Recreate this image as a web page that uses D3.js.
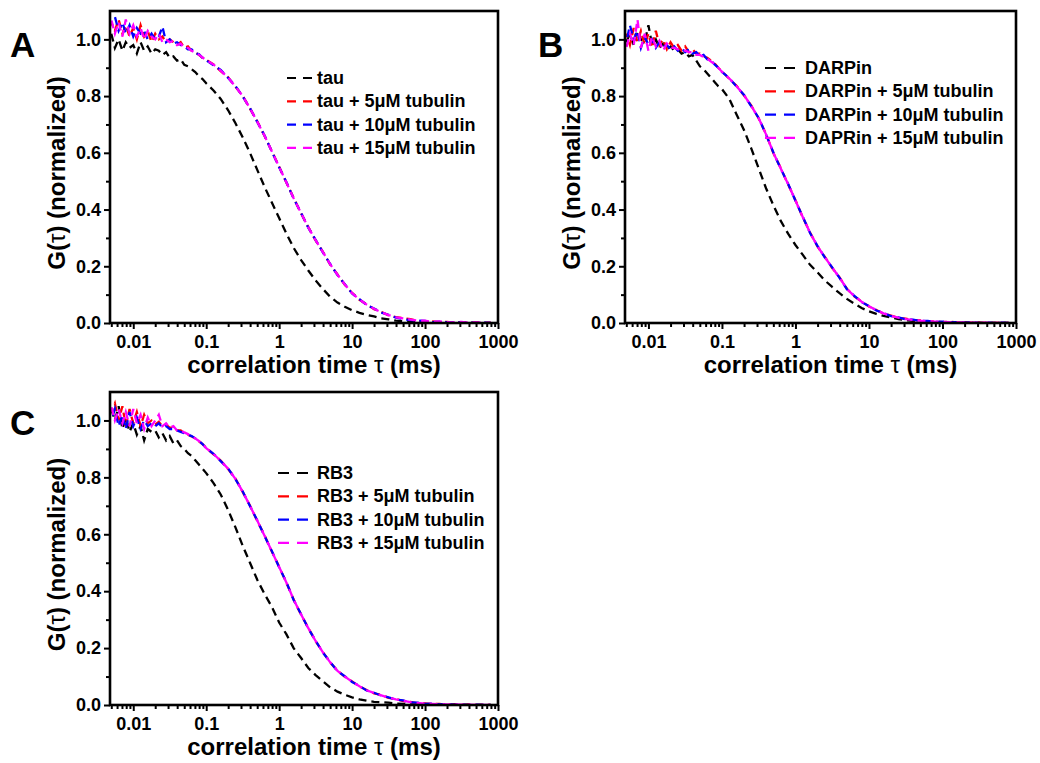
<!DOCTYPE html>
<html>
<head>
<meta charset="utf-8">
<script src="https://cdn.jsdelivr.net/npm/d3@7"></script>
<style>
body { margin: 0; background: #fff; }
svg { display: block; font-family: Arial, "Liberation Sans", sans-serif; }
</style>
</head>
<body>
<svg id="chart" width="1040" height="763"></svg>
<script>
// lag times (ms), shared by every curve
var lagTimes = [0.0050, 0.0056, 0.0063, 0.0071, 0.0079, 0.0089, 0.0100, 0.0112, 0.0126, 0.0141,
  0.0158, 0.0178, 0.0200, 0.0224, 0.0251, 0.0282, 0.0316, 0.0355, 0.0398, 0.0447,
  0.0501, 0.0562, 0.0631, 0.0708, 0.0794, 0.0891,
  0.100, 0.126, 0.158, 0.200, 0.251, 0.316, 0.398, 0.501, 0.631, 0.794,
  1.00, 1.26, 1.58, 2.00, 2.51, 3.16, 3.98, 5.01, 6.31, 7.94,
  10.0, 12.6, 15.8, 20.0, 25.1, 31.6, 39.8, 50.1, 63.1, 79.4,
  100, 126, 158, 200, 251, 316, 398, 501, 631, 794];

// panel A : tau
var tauOnly = [1.02, 0.97, 1.00, 0.96, 0.99, 0.97, 0.98, 0.95, 0.99, 0.96,
  0.975, 0.95, 0.965, 0.96, 0.945, 0.955, 0.935, 0.94, 0.925, 0.93,
  0.91, 0.905, 0.895, 0.885, 0.87, 0.86,
  0.845, 0.82, 0.79, 0.75, 0.705, 0.655, 0.60, 0.54, 0.48, 0.425,
  0.37, 0.315, 0.265, 0.222, 0.185, 0.15, 0.12, 0.092, 0.072, 0.057,
  0.045, 0.036, 0.029, 0.023, 0.016, 0.013, 0.008, 0.006, 0.004, 0.003,
  0.002, 0.003, 0.001, 0.002, 0.001, 0.001, 0.000, 0.001, 0.000, 0.000];
var tau5 = [1.06, 1.03, 1.07, 1.02, 1.05, 1.01, 1.04, 1.00, 1.05, 1.01,
  1.03, 0.99, 1.02, 1.00, 1.01, 0.99, 1.00, 0.99, 0.98, 0.99,
  0.97, 0.975, 0.96, 0.955, 0.945, 0.935,
  0.928, 0.912, 0.888, 0.866, 0.833, 0.801, 0.756, 0.711, 0.659, 0.606,
  0.551, 0.494, 0.441, 0.386, 0.338, 0.291, 0.251, 0.206, 0.171, 0.135,
  0.106, 0.082, 0.066, 0.049, 0.039, 0.027, 0.021, 0.017, 0.014, 0.007,
  0.005, 0.006, 0.003, 0.004, 0.001, 0.003, 0.001, 0.002, 0.000, 0.001];
var tau10 = [1.09, 1.08, 1.03, 1.06, 1.02, 1.05, 1.01, 1.04, 1.02, 1.03,
  1.00, 1.02, 1.00, 1.01, 1.045, 0.99, 1.00, 0.985, 0.99, 0.98,
  0.975, 0.965, 0.965, 0.95, 0.948, 0.935,
  0.926, 0.909, 0.892, 0.864, 0.836, 0.799, 0.758, 0.709, 0.661, 0.604,
  0.549, 0.496, 0.439, 0.388, 0.336, 0.293, 0.249, 0.208, 0.169, 0.137,
  0.104, 0.084, 0.064, 0.051, 0.037, 0.029, 0.019, 0.014, 0.010, 0.009,
  0.007, 0.003, 0.005, 0.002, 0.003, 0.001, 0.002, 0.000, 0.001, 0.000];
var tau15 = [1.07, 1.02, 1.06, 1.01, 1.07, 1.02, 1.05, 1.01, 1.04, 1.00,
  1.03, 1.01, 1.00, 1.02, 0.99, 1.00, 0.99, 0.995, 0.98, 0.985,
  0.97, 0.97, 0.96, 0.953, 0.946, 0.936,
  0.927, 0.911, 0.89, 0.865, 0.834, 0.80, 0.757, 0.71, 0.66, 0.605,
  0.55, 0.495, 0.44, 0.387, 0.337, 0.292, 0.25, 0.207, 0.17, 0.136,
  0.105, 0.083, 0.065, 0.05, 0.038, 0.028, 0.02, 0.016, 0.012, 0.008,
  0.008, 0.004, 0.006, 0.003, 0.002, 0.004, 0.001, 0.002, 0.001, 0.000];

// panel B : DARPin
var darpinOnly = [0.99, 1.02, 0.98, 1.03, 1.00, 0.99, 1.05, 0.98, 1.00, 0.97,
  0.985, 0.965, 0.975, 0.96, 0.965, 0.95, 0.955, 0.94, 0.945, 0.925,
  0.905, 0.895, 0.88, 0.865, 0.85, 0.835,
  0.825, 0.79, 0.735, 0.68, 0.615, 0.545, 0.475, 0.415, 0.36, 0.315,
  0.275, 0.24, 0.205, 0.178, 0.15, 0.127, 0.105, 0.085, 0.068, 0.053,
  0.041, 0.032, 0.025, 0.019, 0.014, 0.010, 0.008, 0.006, 0.004, 0.003,
  0.002, 0.002, 0.001, 0.001, 0.001, 0.000, 0.000, 0.000, 0.000, 0.000];
var darpin5 = [1.02, 0.98, 1.04, 0.99, 1.03, 0.98, 1.02, 0.97, 1.03, 0.98,
  1.00, 0.965, 0.99, 0.97, 0.98, 0.96, 0.975, 0.955, 0.965, 0.95,
  0.95, 0.94, 0.935, 0.925, 0.915, 0.90,
  0.887, 0.861, 0.836, 0.802, 0.766, 0.721, 0.666, 0.599, 0.546, 0.489,
  0.433, 0.372, 0.319, 0.269, 0.233, 0.194, 0.161, 0.121, 0.094, 0.076,
  0.058, 0.046, 0.033, 0.026, 0.018, 0.015, 0.010, 0.009, 0.005, 0.006,
  0.003, 0.004, 0.002, 0.003, 0.001, 0.002, 0.000, 0.001, 0.000, 0.001];
var darpin10 = [0.99, 1.05, 1.00, 1.03, 0.97, 1.01, 0.98, 1.00, 0.97, 0.99,
  0.975, 0.98, 0.965, 0.975, 0.96, 0.97, 0.955, 0.965, 0.95, 0.955,
  0.94, 0.945, 0.93, 0.925, 0.912, 0.90,
  0.885, 0.863, 0.834, 0.804, 0.764, 0.723, 0.664, 0.601, 0.544, 0.491,
  0.431, 0.374, 0.317, 0.271, 0.231, 0.196, 0.159, 0.119, 0.096, 0.074,
  0.060, 0.044, 0.035, 0.024, 0.020, 0.013, 0.012, 0.007, 0.007, 0.004,
  0.005, 0.002, 0.003, 0.001, 0.002, 0.000, 0.001, 0.000, 0.001, 0.000];
var darpin15 = [0.97, 1.02, 0.98, 1.07, 0.97, 1.02, 0.96, 1.01, 0.975, 0.995,
  0.96, 0.985, 0.97, 0.97, 0.965, 0.96, 0.96, 0.955, 0.955, 0.945,
  0.945, 0.938, 0.932, 0.922, 0.914, 0.90,
  0.886, 0.862, 0.835, 0.803, 0.765, 0.722, 0.665, 0.600, 0.545, 0.490,
  0.432, 0.373, 0.318, 0.270, 0.232, 0.195, 0.160, 0.120, 0.095, 0.075,
  0.059, 0.045, 0.034, 0.025, 0.019, 0.014, 0.011, 0.008, 0.006, 0.005,
  0.004, 0.003, 0.002, 0.002, 0.001, 0.001, 0.001, 0.000, 0.000, 0.000];

// panel C : RB3
var rb3Only = [1.04, 1.00, 1.05, 0.97, 1.01, 0.96, 0.99, 0.95, 0.98, 0.93,
  0.97, 0.96, 0.965, 0.94, 0.955, 0.93, 0.945, 0.92, 0.93, 0.91,
  0.90, 0.885, 0.875, 0.86, 0.845, 0.83,
  0.815, 0.78, 0.74, 0.685, 0.625, 0.56, 0.50, 0.44, 0.39, 0.345,
  0.29, 0.248, 0.20, 0.165, 0.13, 0.105, 0.083, 0.062, 0.047, 0.036,
  0.027, 0.020, 0.015, 0.011, 0.010, 0.008, 0.005, 0.004, 0.003, 0.002,
  0.002, 0.001, 0.001, 0.001, 0.000, 0.000, 0.000, 0.000, 0.000, 0.000];
var rb35 = [1.03, 1.06, 1.00, 1.05, 0.98, 1.04, 0.99, 1.03, 0.98, 1.02,
  0.99, 1.00, 0.985, 0.995, 0.98, 0.985, 0.975, 0.975, 0.965, 0.965,
  0.955, 0.95, 0.944, 0.936, 0.927, 0.917,
  0.904, 0.881, 0.859, 0.829, 0.796, 0.749, 0.701, 0.647, 0.596, 0.539,
  0.486, 0.429, 0.371, 0.317, 0.271, 0.224, 0.186, 0.149, 0.121, 0.099,
  0.083, 0.065, 0.053, 0.041, 0.035, 0.025, 0.021, 0.014, 0.011, 0.006,
  0.006, 0.003, 0.004, 0.001, 0.003, 0.000, 0.002, 0.000, 0.001, 0.000];
var rb310 = [1.00, 1.04, 0.98, 1.02, 0.97, 1.03, 0.98, 1.01, 0.97, 1.00,
  0.98, 0.99, 0.98, 0.99, 0.975, 0.98, 0.97, 0.97, 0.965, 0.96,
  0.955, 0.95, 0.945, 0.937, 0.928, 0.917,
  0.902, 0.883, 0.857, 0.831, 0.794, 0.751, 0.699, 0.649, 0.594, 0.541,
  0.484, 0.431, 0.369, 0.319, 0.269, 0.226, 0.184, 0.151, 0.119, 0.101,
  0.081, 0.067, 0.051, 0.043, 0.033, 0.027, 0.019, 0.016, 0.009, 0.008,
  0.004, 0.005, 0.002, 0.003, 0.001, 0.002, 0.000, 0.001, 0.000, 0.000];
var rb315 = [1.05, 1.00, 1.04, 0.99, 1.03, 0.98, 1.04, 0.99, 1.02, 0.97,
  1.01, 0.98, 1.00, 1.02, 0.98, 0.99, 0.975, 0.98, 0.965, 0.965,
  0.958, 0.952, 0.944, 0.937, 0.928, 0.917,
  0.903, 0.882, 0.858, 0.83, 0.795, 0.75, 0.70, 0.648, 0.595, 0.54,
  0.485, 0.43, 0.37, 0.318, 0.27, 0.225, 0.185, 0.15, 0.12, 0.10,
  0.082, 0.066, 0.052, 0.042, 0.034, 0.026, 0.02, 0.015, 0.010, 0.007,
  0.005, 0.004, 0.003, 0.002, 0.002, 0.001, 0.001, 0.000, 0.000, 0.000];

var legendA = ["tau", "tau + 5\u03bcM tubulin", "tau + 10\u03bcM tubulin", "tau + 15\u03bcM tubulin"];
var legendB = ["DARPin", "DARPin + 5\u03bcM tubulin", "DARPin + 10\u03bcM tubulin", "DAPRin + 15\u03bcM tubulin"];
var legendC = ["RB3", "RB3 + 5\u03bcM tubulin", "RB3 + 10\u03bcM tubulin", "RB3 + 15\u03bcM tubulin"];

var seriesColors = ["#000000", "#ff0000", "#0000ff", "#ff00ff"];
var xTickValues = [0.01, 0.1, 1, 10, 100, 1000];
var yTickValues = [0, 0.2, 0.4, 0.6, 0.8, 1.0];
var yMinorTicks = [0.1, 0.3, 0.5, 0.7, 0.9];
var xDomain = [0.0048, 1000], yDomain = [0, 1.1];

var svg = d3.select("#chart");

drawPanel({letter: "A", L: 110, T: 11, W: 388, H: 312, letterX: 10, letterY: 57,
  series: [tauOnly, tau5, tau10, tau15], labels: legendA,
  leg: {x: 287, y: 78, len: 25, textX: 317, dash: "9,7"}});
drawPanel({letter: "B", L: 625, T: 11, W: 391, H: 312, letterX: 538, letterY: 57,
  series: [darpinOnly, darpin5, darpin10, darpin15], labels: legendB,
  leg: {x: 765, y: 68, len: 30, textX: 805, dash: "11,8"}});
drawPanel({letter: "C", L: 110, T: 392, W: 388, H: 313, letterX: 10, letterY: 435,
  series: [rb3Only, rb35, rb310, rb315], labels: legendC,
  leg: {x: 278, y: 473, len: 30, textX: 317, dash: "11,8"}});

function drawPanel(p) {
  var x = d3.scaleLog().domain(xDomain).range([0, p.W]);
  var y = d3.scaleLinear().domain(yDomain).range([p.H, 0]);

  var g = svg.append("g")
    .attr("transform", "translate(" + p.L + "," + p.T + ")");

  var clipId = "clip" + p.letter;
  g.append("clipPath").attr("id", clipId)
    .append("rect").attr("width", p.W).attr("height", p.H);

  var line = d3.line()
    .x(function(d, i) {return x(lagTimes[i]);})
    .y(function(d) {return y(d);});

  var curves = g.append("g").attr("clip-path", "url(#" + clipId + ")");
  p.series.forEach(function(s, k) {
    curves.append("path")
      .datum(s)
      .style("fill", "none")
      .style("stroke", seriesColors[k])
      .style("stroke-width", 2.3)
      .style("stroke-dasharray", "8,5")
      .style("stroke-dashoffset", k * 4)
      .attr("d", line);
  });

  // minor x ticks = every 2..9 inside each decade
  var xMinor = x.ticks().filter(function(t) {
    var l = Math.log10(t);
    return Math.abs(l - Math.round(l)) > 1e-6;
  });

  g.append("g")
    .attr("class", "axis")
    .attr("transform", "translate(0," + p.H + ")")
    .call(d3.axisBottom(x).tickValues(xMinor).tickSize(4).tickFormat(""));
  g.append("g")
    .attr("class", "axis")
    .attr("transform", "translate(0," + p.H + ")")
    .call(d3.axisBottom(x).tickValues(xTickValues).tickSize(6).tickPadding(6)
      .tickFormat(d3.format("~g")));
  g.append("g")
    .attr("class", "axis")
    .call(d3.axisLeft(y).tickValues(yMinorTicks).tickSize(4).tickFormat(""));
  g.append("g")
    .attr("class", "axis")
    .call(d3.axisLeft(y).tickValues(yTickValues).tickSize(6).tickPadding(3)
      .tickFormat(d3.format(".1f")));

  g.selectAll(".axis .domain").remove();
  g.selectAll(".axis line").style("stroke", "#000").style("stroke-width", 2);
  g.selectAll(".axis text")
    .style("font-size", "18px")
    .style("font-weight", "bold")
    .style("fill", "#000");

  // frame
  g.append("rect")
    .attr("width", p.W).attr("height", p.H)
    .style("fill", "none").style("stroke", "#000").style("stroke-width", 2.6);

  // axis titles
  var xt = g.append("text")
    .attr("x", p.W / 2 + 10).attr("y", p.H + 50)
    .attr("text-anchor", "middle")
    .style("font-size", "24px").style("font-weight", "bold");
  xt.append("tspan").text("correlation time ");
  xt.append("tspan").style("font-weight", "normal").text("\u03c4");
  xt.append("tspan").text(" (ms)");

  var yt = g.append("text")
    .attr("transform", "translate(-53," + (p.H / 2 + 6) + ") rotate(-90)")
    .attr("text-anchor", "middle").attr("dy", "0.35em")
    .style("font-size", "24px").style("font-weight", "bold");
  yt.append("tspan").text("G(");
  yt.append("tspan").style("font-weight", "normal").text("\u03c4");
  yt.append("tspan").text(") (normalized)");

  // panel letter
  svg.append("text")
    .attr("x", p.letterX).attr("y", p.letterY)
    .style("font-size", "35px").style("font-weight", "bold")
    .text(p.letter);

  // legend
  var leg = svg.append("g");
  p.labels.forEach(function(label, k) {
    var ly = p.leg.y + k * 23.3;
    leg.append("line")
      .attr("x1", p.leg.x).attr("x2", p.leg.x + p.leg.len)
      .attr("y1", ly).attr("y2", ly)
      .style("stroke", seriesColors[k]).style("stroke-width", 2.2)
      .style("stroke-dasharray", p.leg.dash);
    leg.append("text")
      .attr("x", p.leg.textX).attr("y", ly + 6)
      .style("font-size", "18px").style("font-weight", "bold")
      .text(label);
  });
}
</script>
</body>
</html>
